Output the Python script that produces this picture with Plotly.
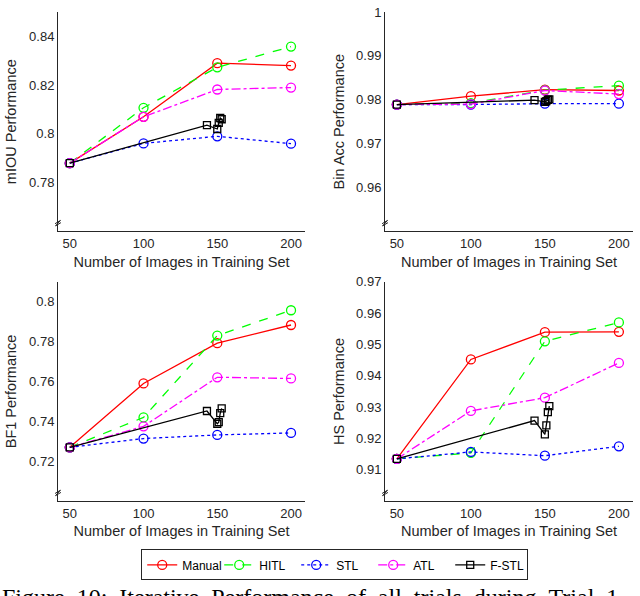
import plotly.graph_objects as go
from plotly.subplots import make_subplots

# Training-set sizes
x_main = [50, 100, 150, 200]
x_fstl = [50, 143, 150, 151, 152, 153]

# mIOU
miou_manual = [0.788, 0.807, 0.829, 0.828]
miou_hitl = [0.788, 0.8107, 0.8273, 0.8358]
miou_stl = [0.788, 0.7961, 0.799, 0.796]
miou_atl = [0.788, 0.807, 0.8182, 0.819]
miou_fstl = [0.788, 0.8036, 0.802, 0.8045, 0.8065, 0.806]

# Bin Acc
bin_manual = [0.9789, 0.9808, 0.9823, 0.9821]
bin_hitl = [0.9789, 0.9792, 0.9822, 0.9832]
bin_stl = [0.9789, 0.9789, 0.9791, 0.9791]
bin_atl = [0.9789, 0.979, 0.9821, 0.9813]
bin_fstl = [0.9789, 0.9799, 0.9795, 0.9797, 0.98, 0.9801]

# BF1
bf1_manual = [0.727, 0.759, 0.7792, 0.7883]
bf1_hitl = [0.727, 0.742, 0.783, 0.7957]
bf1_stl = [0.727, 0.7314, 0.7332, 0.7342]
bf1_atl = [0.727, 0.7375, 0.7621, 0.7615]
bf1_fstl = [0.727, 0.7452, 0.7388, 0.7396, 0.7441, 0.7465]

# HS
hs_manual = [0.9135, 0.9452, 0.9539, 0.954]
hs_hitl = [0.9135, 0.9154, 0.951, 0.957]
hs_stl = [0.9135, 0.9157, 0.9145, 0.9175]
hs_atl = [0.9135, 0.9288, 0.933, 0.9441]
hs_fstl = [0.9135, 0.9257, 0.9213, 0.9242, 0.9284, 0.9303]

panels = [
    (1, 1, 'mIOU Performance', [0.76, 0.85], [0.78, 0.8, 0.82, 0.84], ['0.78', '0.8', '0.82', '0.84'],
     [miou_manual, miou_hitl, miou_stl, miou_atl, miou_fstl]),
    (1, 2, 'Bin Acc Performance', [0.95, 1.0], [0.96, 0.97, 0.98, 0.99, 1.0], ['0.96', '0.97', '0.98', '0.99', '1'],
     [bin_manual, bin_hitl, bin_stl, bin_atl, bin_fstl]),
    (2, 1, 'BF1 Performance', [0.70, 0.81], [0.72, 0.74, 0.76, 0.78, 0.8], ['0.72', '0.74', '0.76', '0.78', '0.8'],
     [bf1_manual, bf1_hitl, bf1_stl, bf1_atl, bf1_fstl]),
    (2, 2, 'HS Performance', [0.90, 0.97], [0.91, 0.92, 0.93, 0.94, 0.95, 0.96, 0.97],
     ['0.91', '0.92', '0.93', '0.94', '0.95', '0.96', '0.97'],
     [hs_manual, hs_hitl, hs_stl, hs_atl, hs_fstl]),
]

series = [
    ('Manual', '#ff0000', 'solid', 'circle-open', 9),
    ('HITL', '#00ff00', 'dash', 'circle-open', 9),
    ('STL', '#0000ff', 'dot', 'circle-open', 9),
    ('ATL', '#ff00ff', 'dashdot', 'circle-open', 9),
    ('F-STL', '#000000', 'solid', 'square-open', 7),
]

caption_words = ['Figure', '10:', 'Iterative', 'Performance', 'of', 'all', 'trials', 'during', 'Trial', '1']

fig = make_subplots(rows=2, cols=2)

for row, col, ytitle, yrange, tickvals, ticktext, data in panels:
    for i, (name, color, dash, symbol, msize) in enumerate(series):
        xs = x_fstl if name == 'F-STL' else x_main
        fig.add_trace(go.Scatter(
            x=xs, y=data[i], name=name, mode='lines+markers',
            line=dict(color=color, dash=dash, width=1.3),
            marker=dict(symbol=symbol, size=msize, color=color, line=dict(width=1.3, color=color)),
            showlegend=(row == 1 and col == 1),
        ), row=row, col=col)
    fig.update_yaxes(range=yrange, tickvals=tickvals, ticktext=ticktext, row=row, col=col,
                     title=dict(text=ytitle, standoff=8))
    fig.update_xaxes(range=[42, 209.5], tickvals=[50, 100, 150, 200], row=row, col=col,
                     title=dict(text='Number of Images in Training Set', standoff=6))

fig.update_xaxes(showgrid=False, zeroline=False, showline=True, linecolor='#262626', linewidth=1,
                 ticks='', tickfont=dict(size=13, color='#262626'), title_font=dict(size=14.5, color='#262626'))
fig.update_yaxes(showgrid=False, zeroline=False, showline=True, linecolor='#262626', linewidth=1,
                 ticks='', tickfont=dict(size=13, color='#262626'), title_font=dict(size=14.5, color='#262626'))

# subplot placement
fig.update_layout(
    xaxis=dict(domain=[0.0906, 0.4766]), xaxis2=dict(domain=[0.6016, 0.989]),
    xaxis3=dict(domain=[0.0906, 0.4766]), xaxis4=dict(domain=[0.6016, 0.989]),
    yaxis=dict(domain=[0.619, 0.9916]), yaxis2=dict(domain=[0.619, 0.9916]),
    yaxis3=dict(domain=[0.161, 0.5336]), yaxis4=dict(domain=[0.161, 0.5336]),
)

# axis break marks at bottom of each y axis
for xa, ya in [('x', 'y'), ('x2', 'y2'), ('x3', 'y3'), ('x4', 'y4')]:
    fig.add_shape(type='path', xref=f'{xa} domain', yref=f'{ya} domain',
                  path='M -0.012,0.035 L 0.01,0.05 L -0.01,0.025 L 0.012,0.04',
                  line=dict(color='#262626', width=1))

# justified caption (cut off by the page edge, as in the source)
fig.add_annotation(text='\u00a0\u00a0'.join(caption_words),
                   xref='paper', yref='paper', x=0.0, y=0.024, xanchor='left', yanchor='top',
                   showarrow=False, font=dict(family='Liberation Serif, Times New Roman, serif', size=24, color='black'))

fig.update_layout(
    width=640, height=596,
    margin=dict(l=0, r=0, t=0, b=0),
    paper_bgcolor='white', plot_bgcolor='white',
    font=dict(family='Liberation Sans, Arial, Helvetica, sans-serif', color='#262626'),
    legend=dict(orientation='h', x=0.523, xanchor='center', y=0.079, yanchor='top',
                bordercolor='#262626', borderwidth=1, font=dict(size=12, color='black'),
                itemwidth=30, entrywidth=32, tracegroupgap=0),
)

fig.write_html("out.html", config={'displayModeBar': False},
               post_script="document.body.style.margin='0';")
